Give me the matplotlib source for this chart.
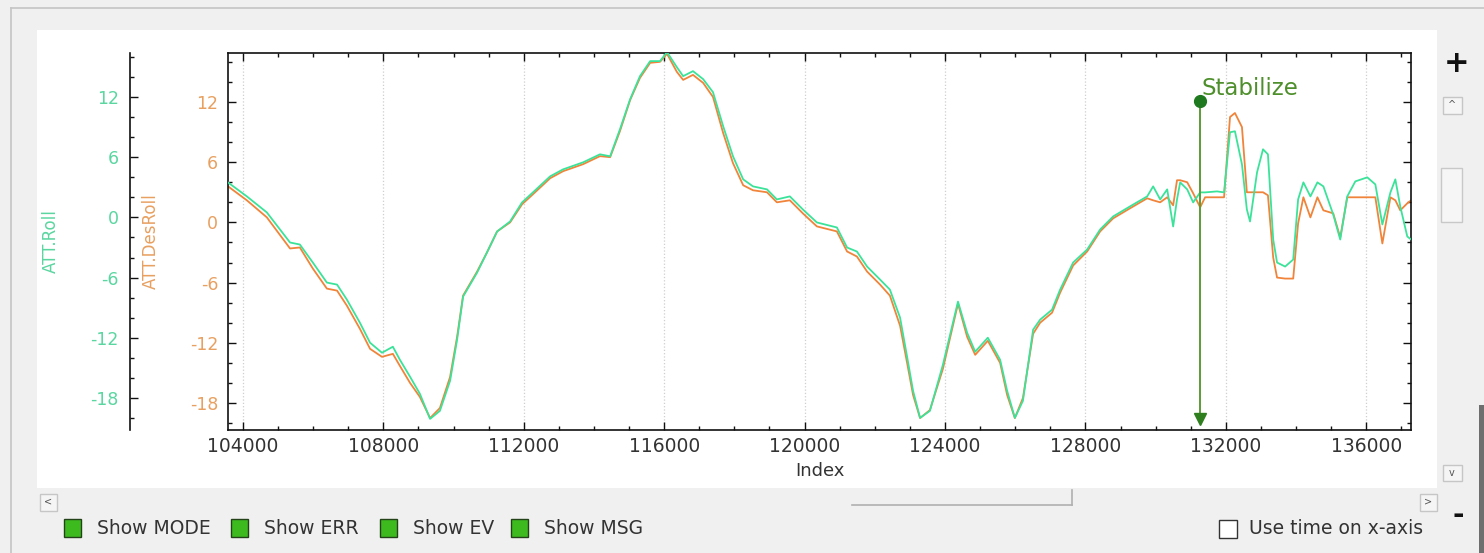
import matplotlib
matplotlib.use("Agg")
import matplotlib.pyplot as plt
import matplotlib.transforms as mtransforms
from matplotlib.patches import Rectangle
from matplotlib.ticker import MultipleLocator

plt.rcParams["font.family"] = "DejaVu Sans"
plt.rcParams["axes.unicode_minus"] = False

# Log samples: message index, ATT.DesRoll, ATT.Roll
index = [103570, 104110, 104680, 105340, 105620, 105990, 106390, 106680, 106960, 107330,
         107620, 107960, 108270, 108470, 108760, 109040, 109330, 109610, 109900, 110100,
         110270, 110670, 110950, 111240, 111610, 111950, 112260, 112750, 113120, 113690,
         114170, 114460, 114740, 115030, 115310, 115600, 115880, 116080, 116360, 116540,
         116820, 117110, 117390, 117680, 117960, 118250, 118530, 118930, 119210, 119580,
         119950, 120350, 120920, 121210, 121490, 121780, 122150, 122430, 122720, 122920,
         123090, 123290, 123570, 123940, 124370, 124630, 124860, 125220, 125570, 125770,
         125990, 126220, 126510, 126710, 127050, 127280, 127650, 128050, 128420, 128790,
         129270, 129760, 129930, 130130, 130330, 130500, 130610, 130700, 130900, 131070,
         131270, 131410, 131750, 131950, 132120, 132260, 132460, 132600, 132690, 132890,
         133060, 133200, 133350, 133460, 133690, 133920, 134060, 134210, 134410, 134610,
         134780, 135060, 135260, 135460, 135690, 136030, 136260, 136460, 136690, 136830,
         136970, 137170, 137280]

des_roll = [3.6, 2.2, 0.5, -2.6, -2.5, -4.6, -6.6, -6.8, -8.3, -10.6,
            -12.6, -13.4, -13.1, -14.3, -16.0, -17.4, -19.5, -18.5, -15.4, -11.4,
            -7.3, -4.9, -3.0, -0.9, 0.0, 1.8, 2.8, 4.4, 5.1, 5.8,
            6.6, 6.5, 9.1, 12.2, 14.4, 15.9, 16.0, 16.8, 15.0, 14.2,
            14.7, 13.9, 12.5, 8.9, 5.9, 3.7, 3.2, 3.0, 2.0, 2.2,
            0.9, -0.4, -0.9, -2.9, -3.4, -4.9, -6.2, -7.3, -10.3, -14.0,
            -17.2, -19.5, -18.7, -14.6, -8.1, -11.4, -13.2, -11.8, -14.0, -17.2,
            -19.5, -17.5, -11.1, -10.0, -9.0, -7.0, -4.3, -2.9, -0.9, 0.4,
            1.4, 2.4, 2.2, 2.0, 2.5, 1.7, 4.2, 4.2, 4.0, 2.9,
            1.5, 2.5, 2.5, 2.5, 10.5, 10.9, 9.5, 3.0, 3.0, 3.0,
            3.0, 2.7, -3.5, -5.5, -5.6, -5.6, -0.1, 2.5, 0.5, 2.5,
            1.2, 0.9, -1.5, 2.5, 2.5, 2.5, 2.5, -2.1, 2.5, 2.2,
            1.2, 1.9, 2.2]

roll = [3.5, 2.1, 0.5, -2.5, -2.7, -4.5, -6.5, -6.7, -8.2, -10.5,
        -12.5, -13.5, -12.9, -14.2, -15.9, -17.6, -20.1, -19.3, -16.3, -12.2,
        -7.9, -5.5, -3.5, -1.4, -0.4, 1.5, 2.5, 4.1, 4.8, 5.5,
        6.3, 6.1, 8.8, 11.8, 14.1, 15.6, 15.6, 16.5, 15.0, 14.1,
        14.6, 13.8, 12.5, 9.1, 6.1, 3.8, 3.1, 2.8, 1.8, 2.1,
        0.8, -0.5, -1.0, -3.0, -3.4, -4.9, -6.2, -7.2, -10.0, -13.9,
        -17.3, -20.0, -19.3, -14.7, -8.4, -11.5, -13.4, -12.0, -14.2, -17.3,
        -20.0, -18.3, -11.2, -10.2, -9.2, -7.2, -4.5, -3.2, -1.2, 0.1,
        1.1, 2.1, 3.1, 1.8, 2.8, -0.9, 1.8, 3.5, 2.8, 1.5,
        2.5, 2.5, 2.6, 2.5, 8.5, 8.6, 5.3, 0.8, -0.4, 4.5,
        6.8, 6.3, -2.2, -4.5, -4.9, -4.2, 1.8, 3.5, 2.1, 3.5,
        3.1, 0.3, -2.2, 2.1, 3.6, 4.0, 3.3, -0.7, 2.5, 3.8,
        1.1, -1.9, -2.2]

# MODE messages shown on the plot
mode_index = [131270]
mode_names = ["Stabilize"]

checkbox_labels = ["Show MODE", "Show ERR", "Show EV", "Show MSG"]

W, H = 1484, 553
fig = plt.figure(figsize=(W / 100, H / 100), dpi=100, facecolor="#f0f0f0")


def fx(px):
    return px / W


def fy(py):
    return 1 - py / H


def box(x0, y0, x1, y1, **kw):
    fig.patches.append(Rectangle((fx(x0), fy(y1)), (x1 - x0) / W, (y1 - y0) / H,
                                 transform=fig.transFigure, **kw))


def hline(x0, x1, y, **kw):
    fig.add_artist(plt.Line2D([fx(x0), fx(x1)], [fy(y), fy(y)], transform=fig.transFigure, **kw))


def vline(x, y0, y1, **kw):
    fig.add_artist(plt.Line2D([fx(x), fx(x)], [fy(y0), fy(y1)], transform=fig.transFigure, **kw))


# Window frame and white plot panel (kept behind the axes)
hline(11, W, 8, color="#c4c4c4", lw=1.2)
vline(11, 8, H, color="#c4c4c4", lw=1.2)
box(37, 30, 1437, 488, facecolor="white", edgecolor="none", zorder=-5)

# Main axes (ATT.DesRoll)
ax = fig.add_axes([fx(228), fy(430), (1411 - 228) / W, (430 - 53) / H])
ax.set_facecolor("white")
ax.plot(index, des_roll, color="#f0843a", lw=1.3)
ax.set_xlim(103573, 137276)
ax.set_ylim(-20.69, 16.88)
ax.xaxis.set_major_locator(MultipleLocator(4000))
ax.xaxis.set_minor_locator(MultipleLocator(1000))
ax.yaxis.set_major_locator(MultipleLocator(6))
ax.yaxis.set_minor_locator(MultipleLocator(2))
ax.grid(axis="x", which="major", color="#cfcfcf", linestyle=":", lw=0.9)
ax.tick_params(which="both", direction="in", top=True, right=True, width=1, color="#111111")
ax.tick_params(which="major", length=6)
ax.tick_params(which="minor", length=3)
ax.tick_params(axis="x", labelsize=13.5, labelcolor="#333333", pad=5)
ax.tick_params(axis="y", labelsize=12.5, labelcolor="#e8a060", pad=7)
for s in ax.spines.values():
    s.set_linewidth(1.2)
    s.set_color("#111111")
ax.set_xlabel("Index", fontsize=13, color="#333333", labelpad=4)
ax.set_ylabel("ATT.DesRoll", fontsize=12, color="#e8a060")
ax.yaxis.set_label_coords(-0.058, 0.5)

# Second axis (ATT.Roll), spine placed further left
ax2 = fig.add_axes(ax.get_position(), sharex=ax, facecolor="none")
ax2.plot(index, roll, color="#3be39a", lw=1.3)
ax2.set_ylim(-21.21, 16.41)
ax2.yaxis.set_major_locator(MultipleLocator(6))
ax2.yaxis.set_minor_locator(MultipleLocator(2))
for name, s in ax2.spines.items():
    s.set_visible(name == "left")
ax2.spines["left"].set_position(("outward", 70.6))
ax2.spines["left"].set_linewidth(1.2)
ax2.spines["left"].set_color("#111111")
ax2.tick_params(axis="x", which="both", bottom=False, top=False, labelbottom=False)
ax2.tick_params(axis="y", which="both", direction="in", width=1, color="#111111",
                labelsize=12.5, labelcolor="#5ad6a0", pad=8)
ax2.tick_params(axis="y", which="major", length=6)
ax2.tick_params(axis="y", which="minor", length=3)
ax2.set_ylabel("ATT.Roll", fontsize=12, color="#5ad6a0")
ax2.yaxis.set_label_coords(-0.142, 0.5)

# MODE markers
trans = mtransforms.blended_transform_factory(ax2.transData, ax2.transAxes)
for xi, name in zip(mode_index, mode_names):
    ax2.plot([xi, xi], [0.873, 0.03], transform=trans, color="#5c9c36", lw=1.4, zorder=5)
    ax2.plot([xi], [0.873], "o", transform=trans, color="#1f7a1f", ms=8.5, zorder=6)
    ax2.plot([xi], [0.028], "v", transform=trans, color="#2f7f1f", ms=9, zorder=6)
    ax2.annotate(name, (xi, 0.907), xycoords=trans, xytext=(1, 0), textcoords="offset points",
                 ha="left", va="center", fontsize=16.5, color="#4e8f2c", zorder=6)

# Right side zoom / scroll controls
fig.text(fx(1457), fy(64), "+", fontsize=22, fontweight="bold", ha="center", va="center", color="#111111")
box(1443, 97, 1462, 114, facecolor="#f5f5f5", edgecolor="#c6c6c6", lw=1)
fig.text(fx(1452), fy(105), "^", fontsize=7, ha="center", va="center", color="#555555")
box(1441, 168, 1462, 222, facecolor="#f6f6f6", edgecolor="#c8c8c8", lw=1)
box(1443, 465, 1462, 481, facecolor="#f5f5f5", edgecolor="#c6c6c6", lw=1)
fig.text(fx(1452), fy(473), "v", fontsize=7, ha="center", va="center", color="#555555")
box(1479, 405, 1484, 553, facecolor="#6e6e6e", edgecolor="none")
fig.text(fx(1458), fy(515), "-", fontsize=20, fontweight="bold", ha="center", va="center", color="#111111")

# Bottom horizontal scroll bar
box(40, 494, 57, 511, facecolor="#f5f5f5", edgecolor="#c6c6c6", lw=1)
fig.text(fx(48), fy(502), "<", fontsize=7, ha="center", va="center", color="#555555")
box(1420, 494, 1437, 511, facecolor="#f5f5f5", edgecolor="#c6c6c6", lw=1)
fig.text(fx(1428), fy(502), ">", fontsize=7, ha="center", va="center", color="#555555")
hline(852, 1072, 505, color="#b0b0b0", lw=1.2)
vline(1072, 490, 505, color="#b0b0b0", lw=1.2)

# Checkboxes
box_x = [64, 231, 380, 511]
for bx, label in zip(box_x, checkbox_labels):
    box(bx, 519, bx + 17, 537, facecolor="#3cba1e", edgecolor="#24421a", lw=1)
    fig.text(fx(bx + 33), fy(528), label, fontsize=13.5, ha="left", va="center", color="#333333")

box(1219, 520, 1237, 538, facecolor="white", edgecolor="#333333", lw=1)
fig.text(fx(1249), fy(529), "Use time on x-axis", fontsize=13.5, ha="left", va="center", color="#333333")

fig.savefig("out.png", dpi=100, facecolor=fig.get_facecolor())
